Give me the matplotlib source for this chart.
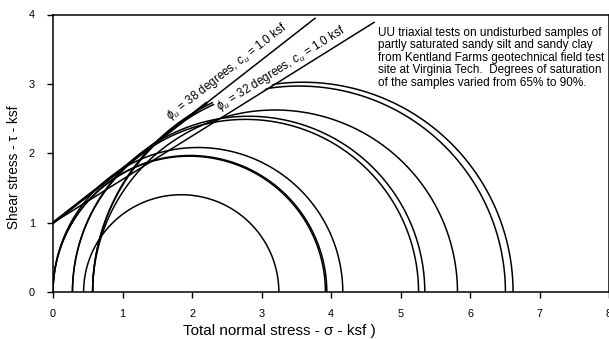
import numpy as np
import matplotlib
matplotlib.use("Agg")
import matplotlib.pyplot as plt

plt.rcParams["font.family"] = ["Liberation Sans", "DejaVu Sans"]
plt.rcParams["mathtext.fontset"] = "custom"
plt.rcParams["mathtext.rm"] = "Liberation Sans"
plt.rcParams["mathtext.it"] = "Liberation Sans:italic"

# Mohr circles: minor / major total principal stresses (ksf)
sigma3 = [0.00, 0.00, 0.00, 0.44, 0.28, 0.28, 0.57, 0.57, 0.57]
sigma1 = [3.92, 3.94, 4.17, 3.25, 5.26, 5.35, 5.82, 6.51, 6.62]

# strength envelopes
env_phi = [38, 32]          # degrees
env_c = [1.0, 1.0]          # ksf
env_xend = [3.77, 4.62]     # where each line stops
env_labels = [r"$\phi_u$ = 38 degrees, $c_u$ = 1.0 ksf",
              r"$\phi_u$ = 32 degrees, $c_u$ = 1.0 ksf"]
label_pos = [(2.50, 3.17), (3.28, 3.22)]

note = ("UU triaxial tests on undisturbed samples of\n"
        "partly saturated sandy silt and sandy clay\n"
        "from Kentland Farms geotechnical field test\n"
        "site at Virginia Tech.  Degrees of saturation\n"
        "of the samples varied from 65% to 90%.")

fig = plt.figure(figsize=(6.09, 3.39), dpi=100)
ax = fig.add_axes([53 / 609, 1 - 292.3 / 339, 556 / 609, 277.8 / 339])

theta = np.linspace(0, np.pi, 400)
for s3, s1 in zip(sigma3, sigma1):
    c = (s1 + s3) / 2
    r = (s1 - s3) / 2
    ax.plot(c + r * np.cos(theta), r * np.sin(theta), color="black", lw=1.1,
            solid_capstyle="butt")

for phi, c, xe in zip(env_phi, env_c, env_xend):
    xs = np.array([0, xe])
    ax.plot(xs, c + np.tan(np.radians(phi)) * xs, color="black", lw=1.1)

# the 38 degree line is drawn heavier where the circles touch it
xs = np.array([0, 2.2])
ax.plot(xs, env_c[0] + np.tan(np.radians(env_phi[0])) * xs, color="black", lw=1.9)

for (x, y), phi, lab in zip(label_pos, env_phi, env_labels):
    ax.text(x, y, lab, rotation=phi, rotation_mode="anchor", ha="center",
            va="center", fontsize=8.4, zorder=5,
            bbox=dict(facecolor="white", edgecolor="none", pad=0.6))

ax.text(4.68, 3.82, note, fontsize=8.5, va="top", ha="left", linespacing=1.05)

ax.set_xlim(0, 8)
ax.set_ylim(0, 4)
ax.set_xticks(range(0, 9))
ax.set_yticks(range(0, 5))
ax.tick_params(direction="out", length=4, width=1, labelsize=7.8)
ax.tick_params(axis="x", pad=8)
ax.tick_params(axis="y", pad=9)
for sp in ax.spines.values():
    sp.set_linewidth(1.1)

fig.text(279.5 / 609, 1 - 331 / 339, "Total normal stress - \u03c3 - ksf )",
         ha="center", va="center", fontsize=11)
fig.text(14 / 609, 1 - 167 / 339, "Shear stress - \u03c4 - ksf",
         ha="center", va="center", rotation=90, fontsize=9.8)

fig.savefig("out.png", dpi=100)
